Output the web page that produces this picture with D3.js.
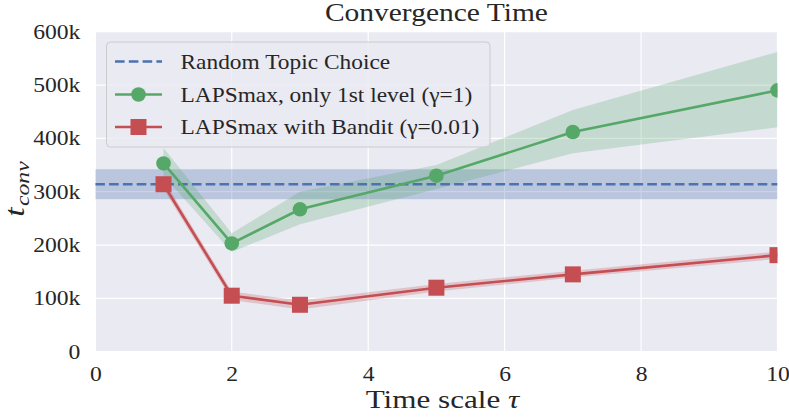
<!DOCTYPE html>
<html><head><meta charset="utf-8">
<script src="https://cdn.jsdelivr.net/npm/d3@7"></script>
<style>body{margin:0;background:#fff}svg{display:block}</style>
</head><body>
<svg id="c" width="789" height="420"></svg>
<script>
const xTicks = [0, 2, 4, 6, 8, 10];
const yTicks = [0, 100000, 200000, 300000, 400000, 500000, 600000];
const taus = [1, 2, 3, 5, 7, 10];
const randomMean = 314000, randomLow = 286000, randomHigh = 342000;
const greenMean = [353000, 203000, 267000, 330000, 412000, 490000];
const greenLow  = [330000, 187000, 239000, 305000, 372000, 421000];
const greenHigh = [382000, 222000, 300000, 350000, 453000, 562000];
const redMean = [314000, 105000, 88000, 120000, 145000, 181000];
const redLow  = [305000, 97000, 79000, 113000, 139000, 174000];
const redHigh = [323000, 113000, 96000, 127000, 152000, 188000];
const legendLabels = ["Random Topic Choice", "LAPSmax, only 1st level (\u03b3=1)", "LAPSmax with Bandit (\u03b3=0.01)"];

const BLUE = "#4C72B0", GREEN = "#55A868", RED = "#C44E52";
const FONT = "'Liberation Serif','Times New Roman','DejaVu Serif',serif";
const SX = 1.18;
const svg = d3.select("#c");
const L = 95.3, R = 777.5, T = 31.7, B = 351.7;
const x = d3.scaleLinear().domain([0, 10]).range([L, R]);
const y = d3.scaleLinear().domain([0, 600000]).range([B, T]);

svg.append("rect").attr("x", L).attr("y", T).attr("width", R - L).attr("height", B - T).attr("fill", "#EAEAF2");
const g = svg.append("g");
g.selectAll(".gx").data(xTicks).join("line").attr("x1", d => x(d)).attr("x2", d => x(d)).attr("y1", T).attr("y2", B).attr("stroke", "#fff").attr("stroke-width", 1.2);
g.selectAll(".gy").data(yTicks).join("line").attr("y1", d => y(d)).attr("y2", d => y(d)).attr("x1", L).attr("x2", R).attr("stroke", "#fff").attr("stroke-width", 1.2);

const fmt = d => d === 0 ? "0" : (d / 1000) + "k";
const ax = svg.append("g").attr("transform", `translate(0,${B})`).call(d3.axisBottom(x).tickValues(xTicks).tickSize(0).tickPadding(15));
const ay = svg.append("g").attr("transform", `translate(${L},0)`).call(d3.axisLeft(y).tickValues(yTicks).tickFormat(fmt).tickSize(0).tickPadding(15));
[ax, ay].forEach(a => { a.select(".domain").remove(); a.selectAll("text").attr("font-family", FONT).attr("font-size", 20).attr("fill", "#262626"); });
ax.selectAll("text").attr("transform", `scale(${SX},1)`);
ay.selectAll("text").attr("x", 0).attr("transform", `translate(-15,0) scale(${SX},1)`);

svg.append("clipPath").attr("id", "clip").append("rect").attr("x", L).attr("y", T).attr("width", R - L).attr("height", B - T);
const p = svg.append("g").attr("clip-path", "url(#clip)");

p.append("rect").attr("x", L).attr("width", R - L).attr("y", y(randomHigh)).attr("height", y(randomLow) - y(randomHigh)).attr("fill", BLUE).attr("fill-opacity", 0.3);

const area = d3.area().x(d => x(d.t)).y0(d => y(d.lo)).y1(d => y(d.hi));
const line = d3.line().x(d => x(d.t)).y(d => y(d.m));
const gData = taus.map((t, i) => ({ t, m: greenMean[i], lo: greenLow[i], hi: greenHigh[i] }));
const rData = taus.map((t, i) => ({ t, m: redMean[i], lo: redLow[i], hi: redHigh[i] }));

p.append("path").datum(gData).attr("d", area).attr("fill", GREEN).attr("fill-opacity", 0.25);
p.append("path").datum(rData).attr("d", area).attr("fill", RED).attr("fill-opacity", 0.25);

p.append("line").attr("x1", L).attr("x2", R).attr("y1", y(randomMean)).attr("y2", y(randomMean)).attr("stroke", BLUE).attr("stroke-width", 2.6).attr("stroke-dasharray", "9.6,4.2");

p.append("path").datum(gData).attr("d", line).attr("fill", "none").attr("stroke", GREEN).attr("stroke-width", 2.6);
p.append("path").datum(rData).attr("d", line).attr("fill", "none").attr("stroke", RED).attr("stroke-width", 2.6);
svg.append("g").selectAll("circle").data(gData).join("circle").attr("cx", d => x(d.t)).attr("cy", d => y(d.m)).attr("r", 7.3).attr("fill", GREEN).attr("clip-path", "url(#clip)");
svg.append("g").selectAll("rect").data(rData).join("rect").attr("x", d => x(d.t) - 8).attr("y", d => y(d.m) - 8).attr("width", 16).attr("height", 16).attr("fill", RED).attr("clip-path", "url(#clip)");

const lg = svg.append("g");
lg.append("rect").attr("x", 106.5).attr("y", 42).attr("width", 383.5).attr("height", 105).attr("rx", 4).attr("fill", "#EAEAF2").attr("fill-opacity", 0.8).attr("stroke", "#CCCCCC").attr("stroke-width", 1);
const rows = [61.5, 94.5, 127];
lg.append("line").attr("x1", 115).attr("x2", 162).attr("y1", rows[0]).attr("y2", rows[0]).attr("stroke", BLUE).attr("stroke-width", 2.6).attr("stroke-dasharray", "9.6,4.2");
lg.append("line").attr("x1", 115).attr("x2", 162).attr("y1", rows[1]).attr("y2", rows[1]).attr("stroke", GREEN).attr("stroke-width", 2.6);
lg.append("circle").attr("cx", 138.5).attr("cy", rows[1]).attr("r", 7.3).attr("fill", GREEN);
lg.append("line").attr("x1", 115).attr("x2", 162).attr("y1", rows[2]).attr("y2", rows[2]).attr("stroke", RED).attr("stroke-width", 2.6);
lg.append("rect").attr("x", 130.5).attr("y", rows[2] - 8).attr("width", 16).attr("height", 16).attr("fill", RED);
lg.selectAll("text").data(legendLabels).join("text").attr("transform", (d, i) => `translate(180.5,${rows[i]}) scale(1.13,1)`).attr("dy", "0.35em")
  .attr("font-family", FONT).attr("font-size", 20.7).attr("fill", "#262626").text(d => d);

svg.append("text").attr("transform", `translate(${(L + R) / 2},21) scale(${SX},1)`).attr("text-anchor", "middle").attr("font-family", FONT).attr("font-size", 25).attr("fill", "#262626").text("Convergence Time");
const xl = svg.append("text").attr("transform", `translate(${(L + R) / 2 + 6},408) scale(1.27,1)`).attr("text-anchor", "middle").attr("font-family", FONT).attr("font-size", 24.5).attr("fill", "#262626");
xl.append("tspan").text("Time scale ");
xl.append("tspan").attr("font-style", "italic").text("\u03c4");
const yl = svg.append("text").attr("transform", "translate(24,189) rotate(-90) scale(1.25,1)").attr("text-anchor", "middle").attr("font-family", FONT).attr("font-size", 27).attr("fill", "#262626").attr("font-style", "italic");
yl.append("tspan").text("t");
yl.append("tspan").attr("font-size", 19).attr("dy", 5).attr("dx", 1).text("conv");
</script>
</body></html>
